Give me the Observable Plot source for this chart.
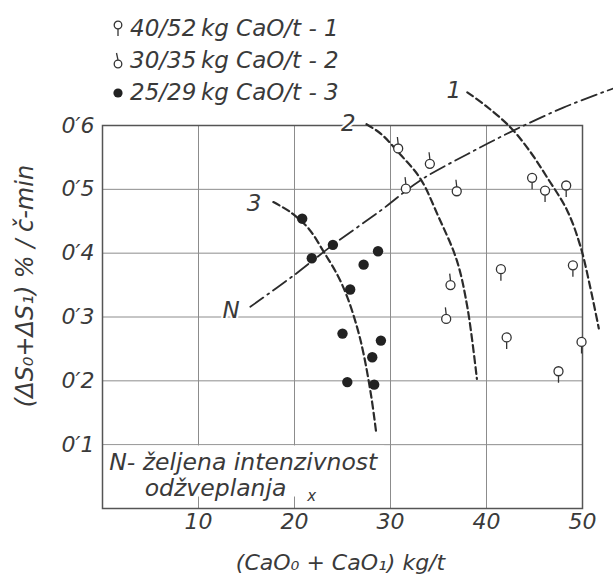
<!DOCTYPE html>
<html><head><meta charset="utf-8">
<script src="https://cdn.jsdelivr.net/npm/d3@7"></script>
<script src="https://cdn.jsdelivr.net/npm/@observablehq/plot@0.6"></script>
<style>
body{margin:0;background:#fff;}
#wrap{position:relative;width:613px;height:576px;font-family:"DejaVu Sans",sans-serif;}
#legend{position:absolute;left:111px;top:12px;font-style:italic;font-size:23px;color:#3a3a3a;z-index:2;}
.row{height:32px;display:flex;align-items:center;white-space:nowrap;}
.row svg{margin-right:5px;}
#chart svg text{font-family:"DejaVu Sans",sans-serif;font-style:italic;}
</style></head>
<body><div id="wrap"><div id="legend"></div><div id="chart"></div></div>
<script>
// ---- data ----
const xTicks = [10, 20, 30, 40, 50];
const yTicks = [0.1, 0.2, 0.3, 0.4, 0.5, 0.6];
const yTickLabels = ["0\u20321", "0\u20322", "0\u20323", "0\u20324", "0\u20325", "0\u20326"];
const legendLabels = ["40/52\u2009kg CaO/t - 1", "30/35\u2009kg CaO/t - 2", "25/29\u2009kg CaO/t - 3"];

const s1x = [44.75, 46.1, 48.3, 41.5, 49.0, 42.1, 49.9, 47.5];
const s1y = [0.518, 0.498, 0.506, 0.375, 0.381, 0.268, 0.261, 0.215];
const s2x = [30.8, 34.1, 31.6, 36.9, 36.25, 35.8];
const s2y = [0.564, 0.540, 0.501, 0.497, 0.350, 0.297];
const s3x = [20.8, 24.0, 21.8, 28.7, 27.2, 25.8, 25.0, 29.0, 28.1, 25.5, 28.3];
const s3y = [0.454, 0.413, 0.392, 0.403, 0.382, 0.343, 0.274, 0.263, 0.237, 0.198, 0.194];

const c1x = [38, 40, 42.5, 44.5, 46.3, 48.4, 49.8, 50.8, 51.7];
const c1y = [0.652, 0.630, 0.597, 0.560, 0.519, 0.467, 0.410, 0.347, 0.282];
const c2x = [27.5, 29, 31, 33.1, 35, 36.9, 38, 39];
const c2y = [0.602, 0.587, 0.555, 0.517, 0.457, 0.389, 0.316, 0.203];
const c3x = [17.8, 19.6, 21.5, 23.05, 24.5, 25.5, 26.5, 27.2, 28.0, 28.5];
const c3y = [0.48, 0.464, 0.438, 0.402, 0.365, 0.331, 0.285, 0.242, 0.175, 0.12];
const nx = [15.4, 20, 24, 29, 33.1, 38, 42.8, 48, 53.2];
const ny = [0.316, 0.366, 0.413, 0.467, 0.514, 0.555, 0.592, 0.628, 0.658];

const curveLabels = ["1", "2", "3", "N"];
const curveLabelX = [36.6, 25.6, 15.8, 13.4];
const curveLabelY = [0.655, 0.603, 0.478, 0.31];

const noteLines = ["N- željena intenzivnost", "odžveplanja"];
const noteX = [0.7, 4.4];
const noteY = [0.072, 0.031];
const noteBox = [{x1: 0, x2: 29.4, y1: 0.018, y2: 0.098}];
const noteMark = [{x: 21.8, y: 0.02, t: "x"}];

const xLabel = "(CaO\u2080 + CaO\u2081) kg/t";
const yLabel = "(\u0394S\u2080+\u0394S\u2081) % / č-min";

// ---- build ----
const zip = (xs, ys) => xs.map((x, i) => ({x, y: ys[i]}));
const s1 = zip(s1x, s1y), s2 = zip(s2x, s2y), s3 = zip(s3x, s3y);
const c1 = zip(c1x, c1y), c2 = zip(c2x, c2y), c3 = zip(c3x, c3y), nl = zip(nx, ny);
const labs = curveLabels.map((t, i) => ({t, x: curveLabelX[i], y: curveLabelY[i]}));
const notes = noteLines.map((t, i) => ({t, x: noteX[i], y: noteY[i]}));

const stemDown = {draw(ctx, size) { const r = Math.sqrt(size / Math.PI); ctx.moveTo(r, 0); ctx.arc(0, 0, r, 0, 2 * Math.PI); ctx.moveTo(0, r); ctx.lineTo(0, r + 7); }};
const stemUp = {draw(ctx, size) { const r = Math.sqrt(size / Math.PI); ctx.moveTo(r, 0); ctx.arc(0, 0, r, 0, 2 * Math.PI); ctx.moveTo(0, -r); ctx.lineTo(-0.8, -r - 7); }};

const ink = "#2b2b2b";
const txt = "#3a3a3a";
const chart = Plot.plot({
  width: 613, height: 576,
  marginLeft: 102, marginRight: 31, marginTop: 125, marginBottom: 68,
  style: {fontFamily: "DejaVu Sans", fontSize: "22px", color: txt, background: "transparent", overflow: "visible"},
  x: {domain: [0, 50], ticks: xTicks, tickSize: 0, tickPadding: 5, label: null, tickFormat: d => String(d)},
  y: {domain: [0, 0.6], ticks: yTicks, tickSize: 0, tickPadding: 8, label: null, tickFormat: d => yTickLabels[yTicks.indexOf(d)]},
  marks: [
    Plot.ruleX(xTicks.slice(0, -1), {stroke: "#8c8c8c", strokeWidth: 1}),
    Plot.ruleY(yTicks.slice(0, -1), {stroke: "#8c8c8c", strokeWidth: 1}),
    Plot.rect(noteBox, {x1: "x1", x2: "x2", y1: "y1", y2: "y2", fill: "white"}),
    Plot.frame({stroke: "#555", strokeWidth: 1.5}),
    Plot.text(notes, {x: "x", y: "y", text: "t", textAnchor: "start", fontSize: 23.5, fill: txt}),
    Plot.text(noteMark, {x: "x", y: "y", text: "t", fontSize: 15, fill: txt}),
    Plot.line(c1, {x: "x", y: "y", curve: "catmull-rom", stroke: ink, strokeWidth: 2.2, strokeDasharray: "7,4"}),
    Plot.line(c2, {x: "x", y: "y", curve: "catmull-rom", stroke: ink, strokeWidth: 2.2, strokeDasharray: "7,4"}),
    Plot.line(c3, {x: "x", y: "y", curve: "catmull-rom", stroke: ink, strokeWidth: 2.2, strokeDasharray: "7,4"}),
    Plot.line(nl, {x: "x", y: "y", curve: "catmull-rom", stroke: ink, strokeWidth: 1.8, strokeDasharray: "16,5,2,5"}),
    Plot.text(labs, {x: "x", y: "y", text: "t", fontSize: 23, fill: txt, stroke: "white", strokeWidth: 4, paintOrder: "stroke"}),
    Plot.dot(s1, {x: "x", y: "y", r: 4.5, symbol: stemDown, fill: "white", stroke: "#333", strokeWidth: 1.3}),
    Plot.dot(s2, {x: "x", y: "y", r: 4.5, symbol: stemUp, fill: "white", stroke: "#333", strokeWidth: 1.3}),
    Plot.dot(s3, {x: "x", y: "y", r: 5.2, fill: "#222", stroke: "none"}),
    Plot.text([yLabel], {frameAnchor: "left", text: d => d, rotate: -90, textAnchor: "middle", lineAnchor: "middle", dx: -77, dy: -31, fontSize: 24, fill: txt}),
    Plot.text([xLabel], {frameAnchor: "bottom", text: d => d, textAnchor: "middle", lineAnchor: "middle", dx: -2, dy: 54, fontSize: 22, fill: txt})
  ]
});
document.getElementById("chart").appendChild(chart);

// legend
const legendSyms = [
  '<svg width="14" height="26" viewBox="-7 -13 14 26"><circle cx="0" cy="-3" r="3.8" fill="white" stroke="#333" stroke-width="1.3"/><line x1="0" y1="0.8" x2="0" y2="8" stroke="#333" stroke-width="1.3"/></svg>',
  '<svg width="14" height="26" viewBox="-7 -13 14 26"><circle cx="0" cy="4" r="3.8" fill="white" stroke="#333" stroke-width="1.3"/><line x1="0" y1="0.2" x2="-1.5" y2="-7" stroke="#333" stroke-width="1.3"/></svg>',
  '<svg width="14" height="26" viewBox="-7 -13 14 26"><circle cx="0" cy="1" r="4.6" fill="#222"/></svg>'
];
document.getElementById("legend").innerHTML = legendLabels.map((l, i) => `<div class="row">${legendSyms[i]}<span>${l}</span></div>`).join("");
</script>
</body></html>
